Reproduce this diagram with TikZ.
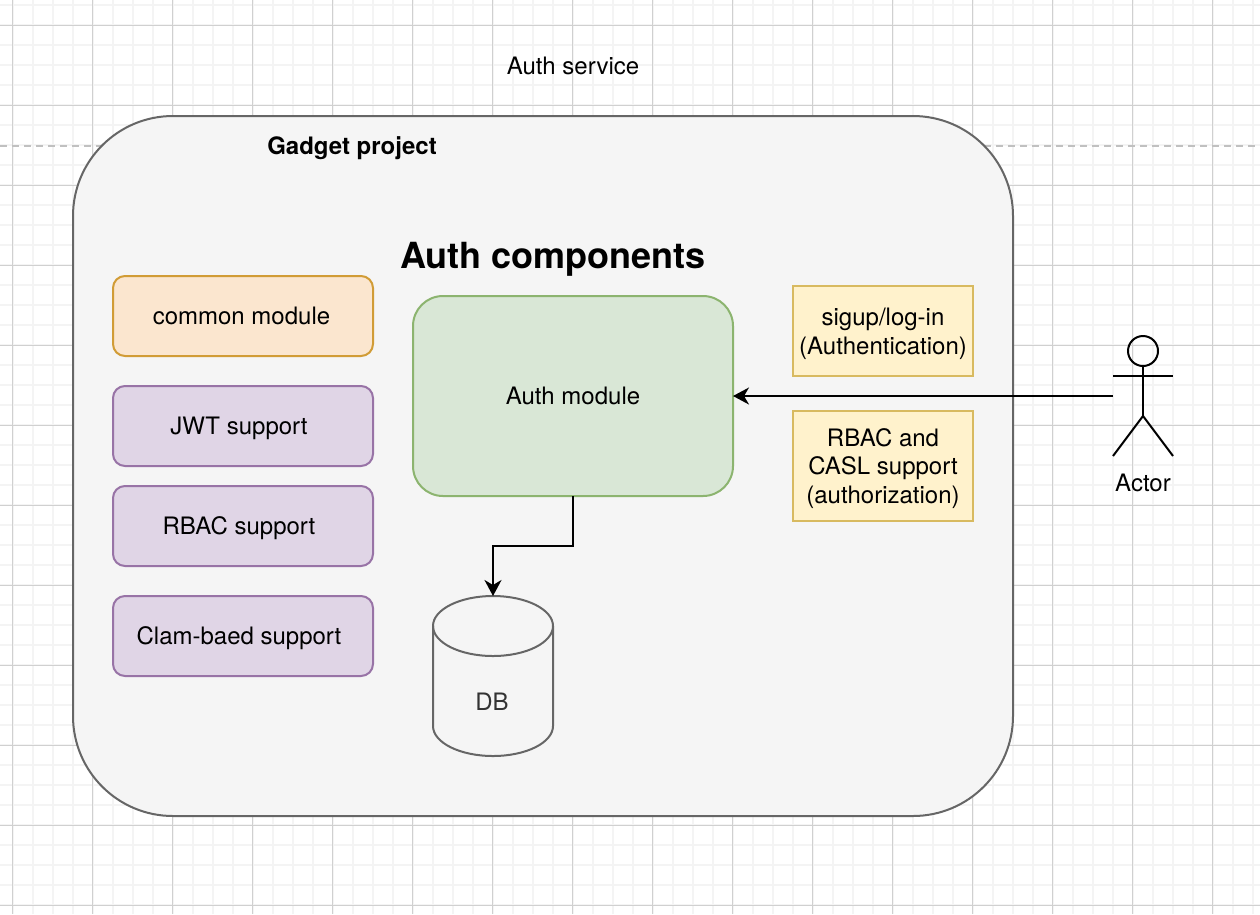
\documentclass[tikz,border=0pt]{standalone}
\usepackage{fontspec}
\setmainfont{TeX Gyre Heros}
\usetikzlibrary{arrows.meta}
\definecolor{gridmajor}{HTML}{D0D0D0}
\definecolor{gridminor}{HTML}{F4F4F4}
\definecolor{dashline}{HTML}{C0C0C0}
\definecolor{projfill}{HTML}{F5F5F5}
\definecolor{projdraw}{HTML}{666666}
\definecolor{authfill}{HTML}{D9E7D6}
\definecolor{authdraw}{HTML}{8CB46F}
\definecolor{commonfill}{HTML}{FBE6CF}
\definecolor{commondraw}{HTML}{D19C36}
\definecolor{supportfill}{HTML}{E0D5E6}
\definecolor{supportdraw}{HTML}{9873A6}
\definecolor{notefill}{HTML}{FFF2CC}
\definecolor{notedraw}{HTML}{D8BA60}
\def\shifttext#1{\hspace*{-8pt}#1}
\tikzset{
	every node/.style={text depth=0pt},
	modbox/.style={minimum width=260pt,minimum height=80pt,outer sep=0pt,inner sep=0pt,rounded corners=12pt,line width=2pt},
	commonbox/.style={modbox,draw=commondraw,fill=commonfill},
	supportbox/.style={modbox,draw=supportdraw,fill=supportfill},
	notebox/.style={minimum width=180pt,outer sep=0pt,inner sep=0pt,draw=notedraw,fill=notefill,line width=2pt,align=center},
	conn/.style={-{Stealth[length=16pt,width=17pt,inset=5pt]},line width=2pt,black},
}
\begin{document}
\begin{tikzpicture}[x=1pt,y=-1pt,font=\fontsize{24}{28.5}\selectfont]
	\useasboundingbox (0,0) rectangle (1260,914);
	\fill[white] (0,0) rectangle (1260,914);

	% background grid
	\foreach \x in {0,...,62} \draw[gridminor,line width=2pt] ({12.5+20*\x},0) -- ({12.5+20*\x},914);
	\foreach \y in {0,...,45} \draw[gridminor,line width=2pt] (0,{5.3+20*\y}) -- (1260,{5.3+20*\y});
	\foreach \x in {0,...,15} \draw[gridmajor,line width=1.6pt] ({12.5+80*\x},0) -- ({12.5+80*\x},914);
	\foreach \y in {0,...,11} \draw[gridmajor,line width=1.6pt] (0,{25.3+80*\y}) -- (1260,{25.3+80*\y});
	\draw[dashline,line width=2pt,dash pattern=on 6.5pt off 5.5pt] (0,146) -- (1260,146);

	\node [minimum width=940pt,minimum height=700pt,outer sep=0pt,rounded corners=100pt,line width=2pt,draw=projdraw,fill=projfill] at (543,466) (project) {};
	\node at (573,66) (service) {Auth service};
	\node [font=\fontsize{24}{28.5}\selectfont\bfseries] at (352,146) (gadget) {Gadget project};
	\node [font=\fontsize{36}{42}\selectfont\bfseries] at (553,255) (components) {Auth components};

	\node [commonbox] at (243,316) (common) {\hspace*{-3pt}common module};
	\node [supportbox] at (243,426) (jwt) {\shifttext{JWT support}};
	\node [supportbox] at (243,526) (rbac) {\shifttext{RBAC support}};
	\node [supportbox] at (243,636) (clam) {\shifttext{Clam-baed support}};

	\node [modbox,minimum width=320pt,minimum height=200pt,rounded corners=30pt,draw=authdraw,fill=authfill] at (573,396) (auth) {Auth module};

	\node [notebox,minimum height=90pt] at (883,331) (signup) {sigup/log-in\\(Authentication)};
	\node [notebox,minimum height=110pt] at (883,466) (casl) {RBAC and\\CASL support\\(authorization)};

	% database
	\node [minimum width=120pt,minimum height=160pt,outer sep=0pt,inner sep=0pt] at (493,676) (db) {};
	\draw [projdraw,fill=projfill,line width=2pt] (db.north west) ++(0,30) arc[start angle=180,end angle=0,x radius=60pt,y radius=30pt] -- ++(0,100) arc[start angle=0,end angle=-180,x radius=60pt,y radius=30pt] -- cycle;
	\draw [projdraw,line width=2pt] (db.north west) ++(0,30) arc[start angle=180,end angle=360,x radius=60pt,y radius=30pt];
	\node [text=black!80] at (492,702) (dblabel) {DB};

	% actor
	\node [minimum width=60pt,minimum height=120pt,outer sep=0pt,inner sep=0pt] at (1143,396) (actor) {};
	\node [circle,draw=black,line width=2pt,minimum size=30pt,inner sep=0pt,outer sep=0pt,below=0pt] at (actor.north) (head) {};
	\draw [line width=2pt,black] (head.south) -- (1143,416);
	\draw [line width=2pt,black] (actor.west |- 0,376) -- (actor.east |- 0,376);
	\draw [line width=2pt,black,line join=round] (actor.south west) -- (1143,416) -- (actor.south east);
	\node at (1143,483) (actorlabel) {Actor};

	\draw [conn] (actor.west) -- (auth.east);
	\draw [conn] (auth.south) -- (573,546) -| (db.north);
\end{tikzpicture}
\end{document}
